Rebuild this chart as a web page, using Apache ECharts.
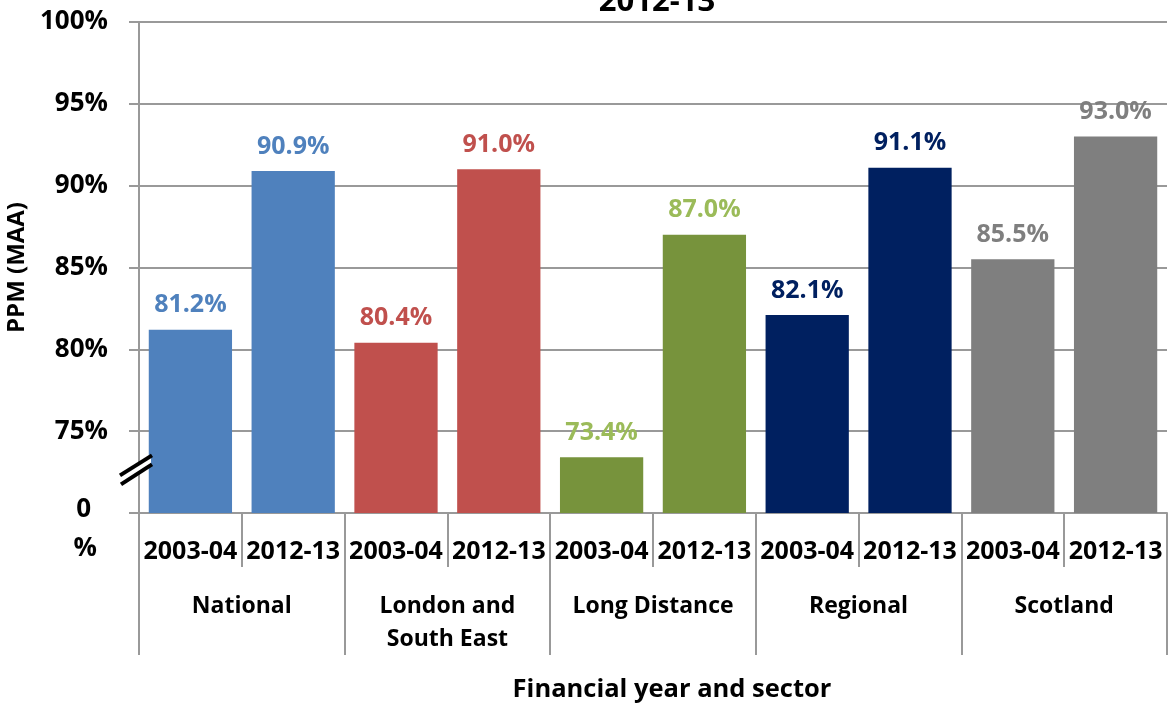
<!DOCTYPE html>
<html><head><meta charset="utf-8">
<script src="https://cdn.jsdelivr.net/npm/echarts@6/dist/echarts.min.js"></script>
<style>html,body{margin:0;padding:0;background:#fff}#c{width:1169px;height:706px}</style>
</head><body><div id="c"></div>
<script>
const years = ['2003-04','2012-13','2003-04','2012-13','2003-04','2012-13','2003-04','2012-13','2003-04','2012-13'];
const sectors = ['National','London and\nSouth East','Long Distance','Regional','Scotland'];
const values = [81.2, 90.9, 80.4, 91.0, 73.4, 87.0, 82.1, 91.1, 85.5, 93.0];
const barColors = ['#4F81BD','#C0504D','#77933C','#002060','#7F7F7F'];
const labelColors = ['#4F81BD','#C0504D','#9BBB59','#002060','#7F7F7F'];
const yTicks = [70, 75, 80, 85, 90, 95, 100];

const FONT = 'Open Sans';
const chart = echarts.init(document.getElementById('c'));
const data = values.map((v, i) => ({
  value: v,
  itemStyle: { color: barColors[Math.floor(i / 2)] },
  label: { color: labelColors[Math.floor(i / 2)] }
}));
const option = {
  animation: false,
  textStyle: { fontFamily: FONT },
  title: [
    { text: '2012-13', left: 652, textAlign: 'center', top: -18,
      textStyle: { fontFamily: FONT, fontSize: 31, fontWeight: 'bold', color: '#000' } },
    { text: 'Financial year and sector', left: 667, textAlign: 'center', top: 672,
      textStyle: { fontFamily: FONT, fontSize: 25.5, fontWeight: 'bold', color: '#000' } }
  ],
  grid: { left: 139, right: 2, top: 22, bottom: 193, containLabel: false, outerBoundsMode: 'none' },
  xAxis: [
    { type: 'category', data: years, position: 'bottom',
      axisLine: { lineStyle: { color: '#999', width: 2 } },
      axisTick: { show: true, interval: 0, length: 54, lineStyle: { color: '#999', width: 2 } },
      axisLabel: { interval: 0, margin: 26, color: '#000', fontFamily: FONT, fontSize: 25, fontWeight: 'bold' } },
    { type: 'category', data: sectors, position: 'bottom', gridIndex: 0,
      axisLine: { show: false },
      axisTick: { show: true, interval: 0, length: 142, lineStyle: { color: '#999', width: 2 } },
      axisLabel: { interval: 0, margin: 77, lineHeight: 33, color: '#000', fontFamily: FONT, fontSize: 23, fontWeight: 'bold' } }
  ],
  yAxis: {
    type: 'value', min: 70, max: 100, interval: 5,
    name: 'PPM (MAA)', nameLocation: 'middle', nameGap: 107, nameRotate: 90,
    nameTextStyle: { fontFamily: FONT, fontSize: 24, fontWeight: 'bold', color: '#000' },
    axisLine: { show: true, lineStyle: { color: '#999', width: 2 } },
    axisTick: { show: true, inside: false, length: 10, lineStyle: { color: '#999', width: 2 } },
    splitLine: { show: true, lineStyle: { color: '#999', width: 2 } },
    axisLabel: {
      margin: 31, color: '#000', fontFamily: FONT, fontSize: 26, fontWeight: 'bold',
      formatter: v => v === yTicks[0] ? '{e| }\n{z|0}\n{p|%}' : v + '%',
      rich: {
        e: { fontSize: 24, lineHeight: 33 },
        z: { fontFamily: FONT, fontSize: 26, fontWeight: 'bold', color: '#000', lineHeight: 39, padding: [0, 17, 0, 0] },
        p: { fontFamily: FONT, fontSize: 26, fontWeight: 'bold', color: '#000', lineHeight: 39, padding: [0, 11, 0, 0] }
      }
    }
  },
  series: [{
    type: 'bar', xAxisIndex: 0, data: data, barCategoryGap: '19%',
    label: { show: true, position: 'top', distance: 12, fontFamily: FONT, fontSize: 25, fontWeight: 'bold',
      formatter: p => p.value.toFixed(1) + '%' }
  }]
};
chart.setOption(option);

// axis break symbol on the value axis
const p = chart.convertToPixel({ xAxisIndex: 0, yAxisIndex: 0 }, [0, 72.85]);
const cx = 137, cy = p[1];
chart.setOption({
  graphic: [
    { type: 'polygon', shape: { points: [[cx - 17, cy + 8], [cx + 14, cy - 11], [cx + 14, cy - 1], [cx - 17, cy + 19]] },
      style: { fill: '#fff' }, z: 100 },
    { type: 'line', shape: { x1: cx - 17, y1: cy + 9, x2: cx + 15, y2: cy - 11 }, style: { stroke: '#000', lineWidth: 4 }, z: 101 },
    { type: 'line', shape: { x1: cx - 16, y1: cy + 18, x2: cx + 15, y2: cy - 2 }, style: { stroke: '#000', lineWidth: 4 }, z: 101 }
  ]
});
</script></body></html>
